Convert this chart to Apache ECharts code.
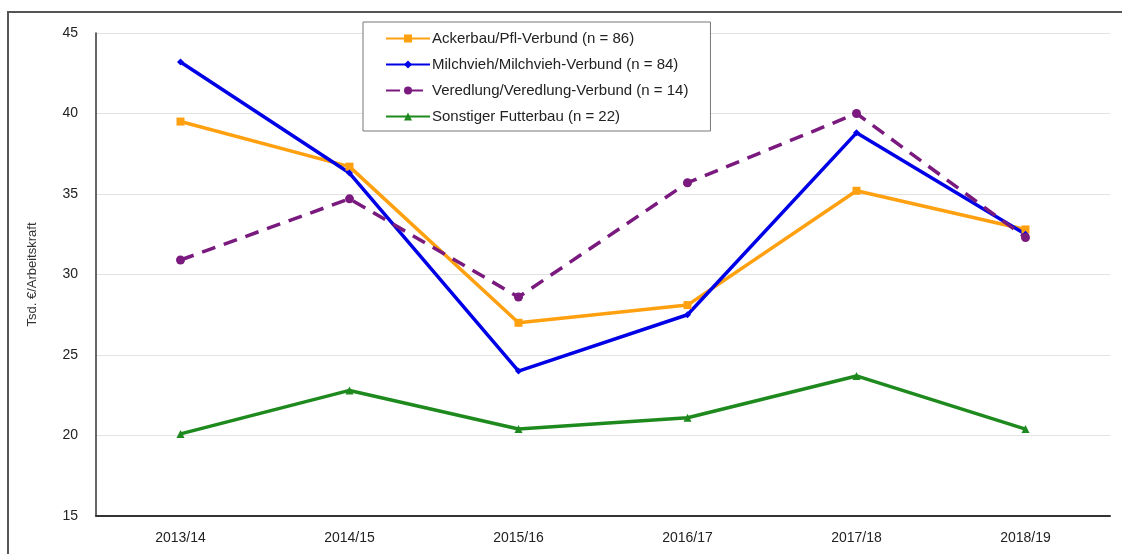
<!DOCTYPE html>
<html>
<head>
<meta charset="utf-8">
<script src="https://cdn.jsdelivr.net/npm/echarts@6/dist/echarts.min.js"></script>
<style>
  html, body { margin: 0; padding: 0; background: #fff; }
  #chart { width: 1122px; height: 554px; }
</style>
</head>
<body>
<div id="chart"></div>
<script>
// Wirtschaftsjahre
const years = ['2013/14', '2014/15', '2015/16', '2016/17', '2017/18', '2018/19']

// Werte in Tsd. €/Arbeitskraft
const ackerbau = [39.5, 36.7, 27.0, 28.1, 35.2, 32.8]
const milchvieh = [43.2, 36.3, 24.0, 27.5, 38.8, 32.5]
const veredlung = [30.9, 34.7, 28.6, 35.7, 40.0, 32.3]
const futterbau = [20.1, 22.8, 20.4, 21.1, 23.7, 20.4]

const seriesNames = [
  'Ackerbau/Pfl-Verbund (n = 86)',
  'Milchvieh/Milchvieh-Verbund (n = 84)',
  'Veredlung/Veredlung-Verbund (n = 14)',
  'Sonstiger Futterbau (n = 22)'
]

const font = 'Liberation Sans, Arial, sans-serif'
const chart = echarts.init(document.getElementById('chart'))

const makeSeries = (name, data, color, symbol, size, dashed) => ({
  name,
  type: 'line',
  data,
  symbol,
  symbolSize: size,
  showSymbol: true,
  itemStyle: { color },
  lineStyle: { color, width: 3.5, type: dashed ? [14, 9] : 'solid' },
  z: 3
})

chart.setOption({
  animation: false,
  textStyle: { fontFamily: font },
  graphic: [{
    type: 'rect',
    shape: { x: 8, y: 12, width: 1130, height: 560 },
    style: { fill: 'none', stroke: '#555', lineWidth: 2 },
    silent: true
  }],
  legend: {
    orient: 'vertical',
    left: 363,
    top: 22,
    data: seriesNames,
    itemWidth: 44,
    itemHeight: 10,
    itemGap: 11,
    padding: [9, 22, 7, 22],
    backgroundColor: '#fff',
    borderColor: '#777',
    borderWidth: 1,
    textStyle: { fontFamily: font, fontSize: 15, color: '#222', padding: [0, 0, 0, -3] }
  },
  grid: {
    left: 96,
    right: 12,
    top: 33,
    bottom: 38
  },
  xAxis: {
    type: 'category',
    data: years,
    boundaryGap: true,
    axisLine: { lineStyle: { color: '#333', width: 2 } },
    axisTick: { show: false },
    axisLabel: { color: '#222', fontSize: 14, margin: 15, fontFamily: font }
  },
  yAxis: {
    type: 'value',
    min: 15,
    max: 45,
    interval: 5,
    name: 'Tsd. €/Arbeitskraft',
    nameLocation: 'middle',
    nameGap: 57,
    nameTextStyle: { color: '#333', fontSize: 13, fontFamily: font },
    axisLine: { show: true, lineStyle: { color: '#333', width: 1.5 } },
    axisTick: { show: false },
    axisLabel: { color: '#222', fontSize: 14, margin: 18, fontFamily: font },
    splitLine: { lineStyle: { color: '#e2e2e2', width: 1 } }
  },
  series: [
    makeSeries(seriesNames[0], ackerbau, '#FFA010', 'rect', 8, false),
    makeSeries(seriesNames[1], milchvieh, '#0000E6', 'diamond', 7, false),
    makeSeries(seriesNames[2], veredlung, '#7A1A7E', 'circle', 9, true),
    makeSeries(seriesNames[3], futterbau, '#1E8A1E', 'triangle', 8, false)
  ]
})
</script>
</body>
</html>
